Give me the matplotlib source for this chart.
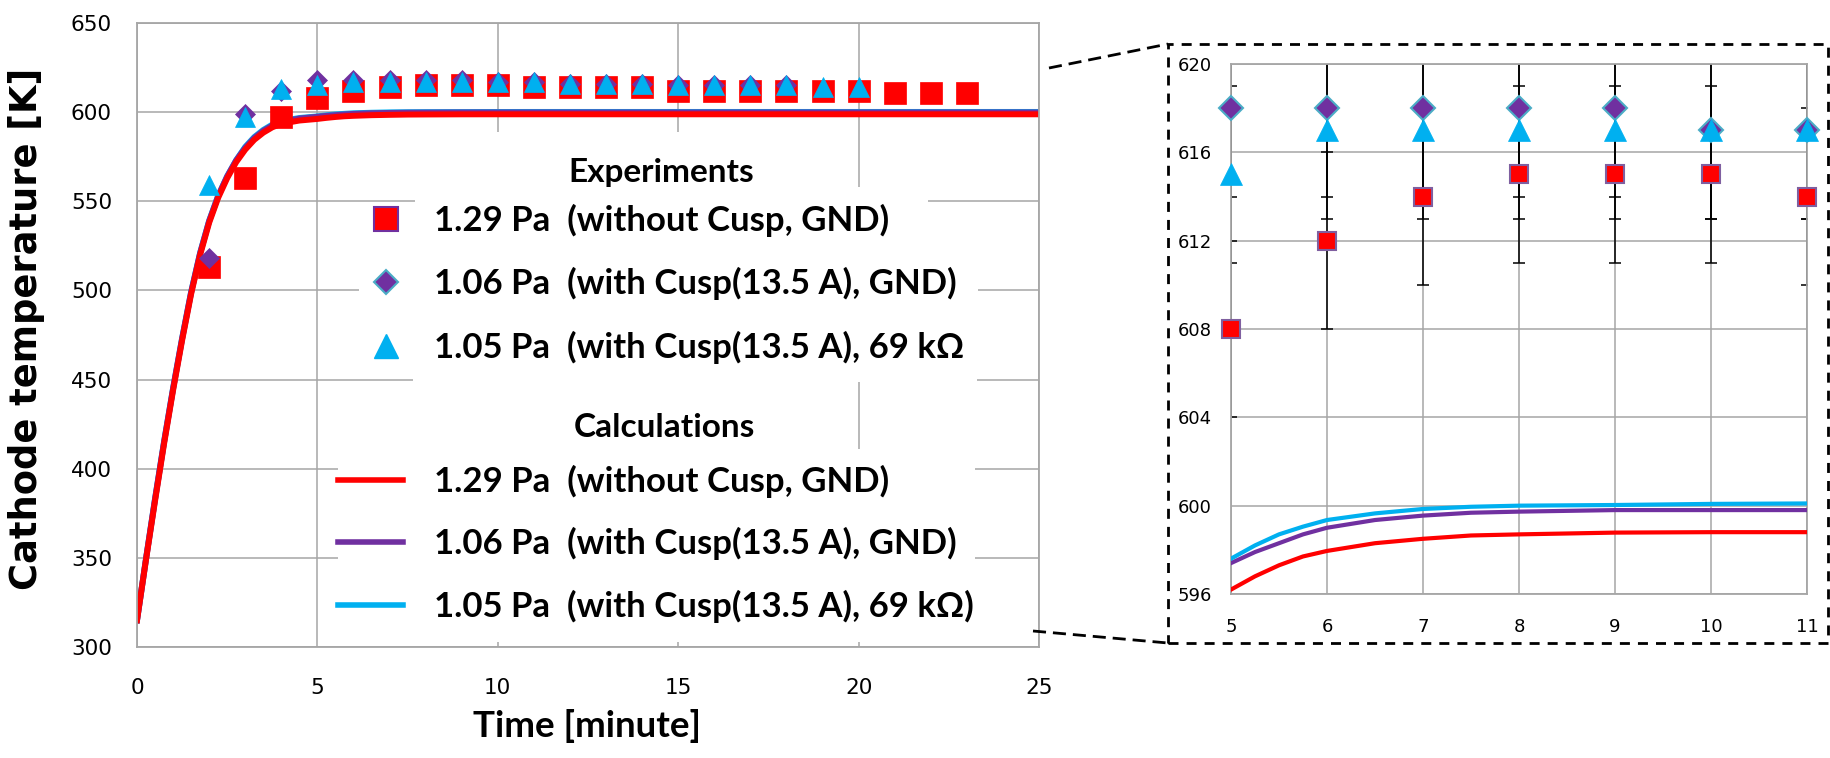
import numpy as np
import matplotlib.pyplot as plt
from matplotlib.patches import Rectangle
from matplotlib.lines import Line2D

plt.rcParams['font.family'] = ['Lato', 'DejaVu Sans']

###############################################################################
# measured cathode temperature [K] vs time [min]
###############################################################################

t_sq = [2, 3, 4, 5, 6, 7, 8, 9, 10, 11, 12, 13, 14, 15, 16, 17, 18, 19, 20, 21, 22, 23]
T_sq = [513, 563, 597, 608, 612, 614, 615, 615, 615, 614, 614, 614, 614, 612, 612, 612, 612, 612, 612, 611, 611, 611]

t_di = [2, 3, 4, 5, 6, 7, 8, 9, 10, 11, 12, 13, 14, 15, 16, 17, 18]
T_di = [518, 599, 612, 618, 618, 618, 618, 618, 617, 617, 616, 616, 616, 615, 615, 615, 615]

t_tr = [2, 3, 4, 5, 6, 7, 8, 9, 10, 11, 12, 13, 14, 15, 16, 17, 18, 19, 20]
T_tr = [559, 597, 613, 615, 617, 617, 617, 617, 617, 617, 616, 616, 616, 615, 615, 615, 615, 614, 614]

err_K = 4   # measurement uncertainty

# calculated curves
t_calc = [0, 0.25, 0.5, 0.75, 1.0, 1.25, 1.5, 1.75, 2.0, 2.25, 2.5, 2.75, 3.0, 3.25, 3.5,
          3.75, 4.0, 4.5, 5.0, 5.25, 5.5, 5.75, 6.0, 6.5, 7.0, 7.5, 8.0, 9.0, 10.0, 11.0, 25.0]
T_red = [315, 349, 382, 414, 444, 472, 498, 520, 538, 552, 563, 572, 579, 584.5, 588.5,
         591.5, 593.5, 595.3, 596.2, 596.8, 597.3, 597.7, 597.95, 598.3, 598.5, 598.65, 598.7, 598.78, 598.8, 598.8, 598.8]
T_pur = [315, 349.5, 383, 415, 445, 473, 499, 521, 539, 553, 564, 573, 580, 585.5, 589.5,
         592.5, 594.5, 596.4, 597.4, 597.9, 598.3, 598.7, 599.0, 599.35, 599.55, 599.68, 599.73, 599.8, 599.8, 599.8, 599.8]
T_cya = [315, 349.5, 383, 415, 445, 473, 499, 521, 539, 553, 564, 573, 580.5, 586, 590,
         593, 595, 596.7, 597.6, 598.2, 598.7, 599.05, 599.35, 599.65, 599.85, 599.95, 600.0, 600.03, 600.08, 600.1, 600.1]

lab_exp = ['1.29 Pa  (without Cusp, GND)',
           '1.06 Pa  (with Cusp(13.5 A), GND)',
           '1.05 Pa  (with Cusp(13.5 A), 69 k\u03a9']
lab_calc = ['1.29 Pa  (without Cusp, GND)',
            '1.06 Pa  (with Cusp(13.5 A), GND)',
            '1.05 Pa  (with Cusp(13.5 A), 69 k\u03a9)']

RED = '#FF0000'
PUR = '#7030A0'
CYA = '#00B0F0'
TEAL = '#4BACC6'
GRID = '#A6A6A6'

###############################################################################
W, H = 1831, 758
def fx(px):
    return px / W
def fy(py):
    return 1 - py / H

fig = plt.figure(figsize=(W / 100, H / 100), dpi=100)

# ----------------------------------------------------------------- main plot
ax = fig.add_axes([fx(137), fy(647), (1039 - 137) / W, (647 - 23) / H])

ax.plot(t_calc, T_cya, color=CYA, lw=4.3, zorder=2)
ax.plot(t_calc, T_pur, color=PUR, lw=4.3, zorder=2)
ax.plot(t_calc, T_red, color=RED, lw=4.3, zorder=2)

ax.plot(t_sq, T_sq, ls='none', marker='s', ms=15.5, mfc=RED, mec=RED, mew=0.5, zorder=3)
ax.plot(t_di, T_di, ls='none', marker='D', ms=10.5, mfc=PUR, mec=PUR, mew=0.5, zorder=4)
ax.plot(t_tr, T_tr, ls='none', marker='^', ms=15, mfc=CYA, mec=CYA, mew=0.5, zorder=5)

ax.set_xlim(0, 25)
ax.set_ylim(300, 650)
ax.set_xticks(np.arange(0, 26, 5))
ax.set_yticks(np.arange(300, 651, 50))
ax.set_axisbelow(True)
ax.grid(True, color=GRID, lw=1.1)
for sp in ax.spines.values():
    sp.set_color(GRID)
    sp.set_linewidth(1.3)
ax.tick_params(axis='both', length=0, labelsize=15.5, colors='black')
ax.tick_params(axis='x', pad=22)
ax.tick_params(axis='y', pad=18)
for lb in ax.get_xticklabels() + ax.get_yticklabels():
    lb.set_fontfamily('DejaVu Sans')

ax.set_ylabel('Cathode temperature [K]', fontfamily='DejaVu Sans',
              fontweight='bold', fontsize=26.5)
ax.yaxis.set_label_coords(-0.102, 0.51)
ax.set_xlabel('Time [minute]', fontweight='bold', fontsize=26.5)
ax.xaxis.set_label_coords(0.499, -0.10)

# white text-box backgrounds behind the legend rows
bg_boxes = [(0.380, 0.716, 0.785, 0.825), (0.308, 0.628, 0.877, 0.737),
            (0.246, 0.524, 0.932, 0.628), (0.306, 0.425, 0.931, 0.524),
            (0.380, 0.317, 0.785, 0.425), (0.223, 0.008, 0.929, 0.317)]
for x0, y0, x1, y1 in bg_boxes:
    ax.add_patch(Rectangle((x0, y0), x1 - x0, y1 - y0, transform=ax.transAxes,
                           fc='white', ec='none', zorder=1))

h_exp = [Line2D([], [], ls='none', marker='s', ms=17, mfc=RED, mec=PUR, mew=1.5),
         Line2D([], [], ls='none', marker='D', ms=12.5, mfc=PUR, mec=TEAL, mew=1.5),
         Line2D([], [], ls='none', marker='^', ms=17, mfc=CYA, mec=CYA)]
h_calc = [Line2D([], [], color=RED, lw=4),
          Line2D([], [], color=PUR, lw=4),
          Line2D([], [], color=CYA, lw=4)]

leg_prop = dict(weight='bold', size=25)
leg1 = ax.legend(h_exp, lab_exp, loc='upper left', bbox_to_anchor=(fx(365), fy(204)),
                 bbox_transform=fig.transFigure, frameon=False, prop=leg_prop,
                 handlelength=1.2, handletextpad=0.78, labelspacing=0.87,
                 borderpad=0, borderaxespad=0)
ax.add_artist(leg1)
leg2 = ax.legend(h_calc, lab_calc, loc='upper left', bbox_to_anchor=(fx(338), fy(465)),
                 bbox_transform=fig.transFigure, frameon=False, prop=leg_prop,
                 handlelength=1.87, handletextpad=0.89, labelspacing=0.84,
                 borderpad=0, borderaxespad=0)

fig.text(fx(661), fy(182), 'Experiments', ha='center', va='baseline',
         fontweight='bold', fontsize=24)
fig.text(fx(664), fy(437), 'Calculations', ha='center', va='baseline',
         fontweight='bold', fontsize=24)

# ----------------------------------------------------------------- zoomed inset
ax2 = fig.add_axes([fx(1231), fy(594), (1807 - 1231) / W, (594 - 64) / H])
t0, t1 = 5, 11

def window(t, T):
    t = np.asarray(t, float)
    T = np.asarray(T, float)
    m = (t >= t0) & (t <= t1)
    return t[m], T[m]

for t, T in [(t_sq, T_sq), (t_di, T_di), (t_tr, T_tr)]:
    tw, Tw = window(t, T)
    ax2.errorbar(tw, Tw, yerr=err_K, fmt='none', ecolor='black', elinewidth=1.1,
                 capsize=4, capthick=1.1, zorder=2)

ax2.plot(t_calc, T_red, color=RED, lw=3, zorder=3)
ax2.plot(t_calc, T_pur, color=PUR, lw=3, zorder=3)
ax2.plot(t_calc, T_cya, color=CYA, lw=3, zorder=3)

tw, Tw = window(t_sq, T_sq)
ax2.plot(tw, Tw, ls='none', marker='s', ms=12.5, mfc=RED, mec='#7F5FA0', mew=1.5,
         zorder=4, clip_on=False)
tw, Tw = window(t_di, T_di)
ax2.plot(tw, Tw, ls='none', marker='D', ms=12.5, mfc=PUR, mec=TEAL, mew=1.5,
         zorder=5, clip_on=False)
tw, Tw = window(t_tr, T_tr)
ax2.plot(tw, Tw, ls='none', marker='^', ms=16, mfc=CYA, mec=CYA, mew=0.5,
         zorder=6, clip_on=False)

ax2.set_xlim(t0, t1)
ax2.set_ylim(596, 620)
ax2.set_xticks(np.arange(5, 12, 1))
ax2.set_yticks(np.arange(596, 621, 4))
ax2.set_axisbelow(True)
ax2.grid(True, color=GRID, lw=1.1)
for sp in ax2.spines.values():
    sp.set_color(GRID)
    sp.set_linewidth(1.3)
ax2.tick_params(axis='both', length=0, labelsize=13, colors='black')
ax2.tick_params(axis='x', pad=17)
ax2.tick_params(axis='y', pad=14)
for lb in ax2.get_xticklabels() + ax2.get_yticklabels():
    lb.set_fontfamily('DejaVu Sans')

# dashed frame around the inset and the connector lines
fig.add_artist(Rectangle((fx(1168), fy(643)), (1828 - 1168) / W, (643 - 44) / H,
                         transform=fig.transFigure, fill=False, ec='black',
                         lw=2, ls=(0, (3.6, 2.9))))
fig.add_artist(Line2D([fx(1049), fx(1168)], [fy(68), fy(44)], transform=fig.transFigure,
                      color='black', lw=2, ls=(0, (4.7, 2.5))))
fig.add_artist(Line2D([fx(1033), fx(1168)], [fy(631), fy(643)], transform=fig.transFigure,
                      color='black', lw=2, ls=(0, (4.7, 2.5))))

fig.savefig('out.png', dpi=100)
